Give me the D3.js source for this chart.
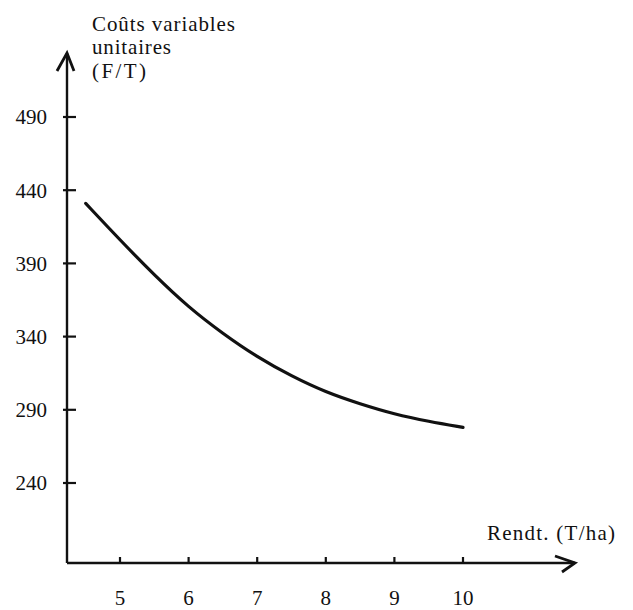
<!DOCTYPE html>
<html>
<head>
<meta charset="utf-8">
<script src="https://cdn.jsdelivr.net/npm/d3@7"></script>
<style>
  body { margin: 0; background: #fff; }
  svg text { font-family: "Liberation Serif", "DejaVu Serif", serif; fill: #111; }
</style>
</head>
<body>
<div id="viz"></div>
<script>
// Unit variable cost vs yield
const rendement = [4.5, 5, 5.5, 6, 6.5, 7, 7.5, 8, 8.5, 9, 9.5, 10];
const couts = [431, 406, 382, 360, 342, 326, 313, 302, 294, 287, 282, 278];
const xTicks = [5, 6, 7, 8, 9, 10];
const yTicks = [240, 290, 340, 390, 440, 490];
const yLabelLines = ["Coûts variables", "unitaires", "(F/T)"];
const yLabelWidths = [143, 79, 54];
const xLabel = "Rendt. (T/ha)";

const width = 633, height = 610;
const svg = d3.select("#viz").append("svg")
    .attr("width", width)
    .attr("height", height);

const x = d3.scaleLinear().domain([5, 10]).range([120, 463]);
const y = d3.scaleLinear().domain([240, 490]).range([483, 117]);

const x0 = 67, y0 = 563;   // axis origin
const xEnd = 575, yTop = 53;

const ink = "#111";

// axes lines
svg.append("line")
    .attr("x1", x0).attr("y1", y0).attr("x2", x0).attr("y2", yTop)
    .attr("stroke", ink).attr("stroke-width", 2.4);
svg.append("line")
    .attr("x1", x0).attr("y1", y0).attr("x2", xEnd).attr("y2", y0)
    .attr("stroke", ink).attr("stroke-width", 2.4);

// open arrow heads
svg.append("path")
    .attr("d", `M${x0 - 10},${yTop + 18} L${x0},${yTop} L${x0 + 7},${yTop + 18}`)
    .attr("fill", "none").attr("stroke", ink).attr("stroke-width", 2.8)
    .attr("stroke-linejoin", "miter");
svg.append("path")
    .attr("d", `M${xEnd - 20},${y0 - 7} L${xEnd},${y0} L${xEnd - 13},${y0 + 9}`)
    .attr("fill", "none").attr("stroke", ink).attr("stroke-width", 2.8)
    .attr("stroke-linejoin", "miter");

// y ticks + labels
const yg = svg.append("g");
yg.selectAll("line")
    .data(yTicks)
    .enter().append("line")
    .attr("x1", x0 - 4).attr("x2", x0 + 9)
    .attr("y1", d => y(d)).attr("y2", d => y(d))
    .attr("stroke", ink).attr("stroke-width", 2.2);
yg.selectAll("text")
    .data(yTicks)
    .enter().append("text")
    .attr("x", 47)
    .attr("y", d => y(d))
    .attr("dy", "0.35em")
    .attr("text-anchor", "end")
    .attr("font-size", 21)
    .text(d => d);

// x ticks + labels
const xg = svg.append("g");
xg.selectAll("line")
    .data(xTicks)
    .enter().append("line")
    .attr("x1", d => x(d)).attr("x2", d => x(d))
    .attr("y1", y0 - 6).attr("y2", y0)
    .attr("stroke", ink).attr("stroke-width", 2.2);
xg.selectAll("text")
    .data(xTicks)
    .enter().append("text")
    .attr("x", d => x(d))
    .attr("y", 605)
    .attr("text-anchor", "middle")
    .attr("font-size", 21)
    .text(d => d);

// axis titles
svg.append("g").selectAll("text")
    .data(yLabelLines)
    .enter().append("text")
    .attr("x", 92)
    .attr("y", (d, i) => 31 + i * 23.3)
    .attr("font-size", 21)
    .attr("textLength", (d, i) => yLabelWidths[i])
    .attr("lengthAdjust", "spacing")
    .text(d => d);

svg.append("text")
    .attr("x", 487)
    .attr("y", 540)
    .attr("font-size", 21)
    .attr("textLength", 128)
    .attr("lengthAdjust", "spacing")
    .text(xLabel);

// curve
const line = d3.line()
    .x((d, i) => x(rendement[i]))
    .y(d => y(d))
    .curve(d3.curveBasis);

svg.append("path")
    .datum(couts)
    .attr("d", line)
    .attr("fill", "none")
    .attr("stroke", ink)
    .attr("stroke-width", 3.2)
    .attr("stroke-linecap", "round");
</script>
</body>
</html>
